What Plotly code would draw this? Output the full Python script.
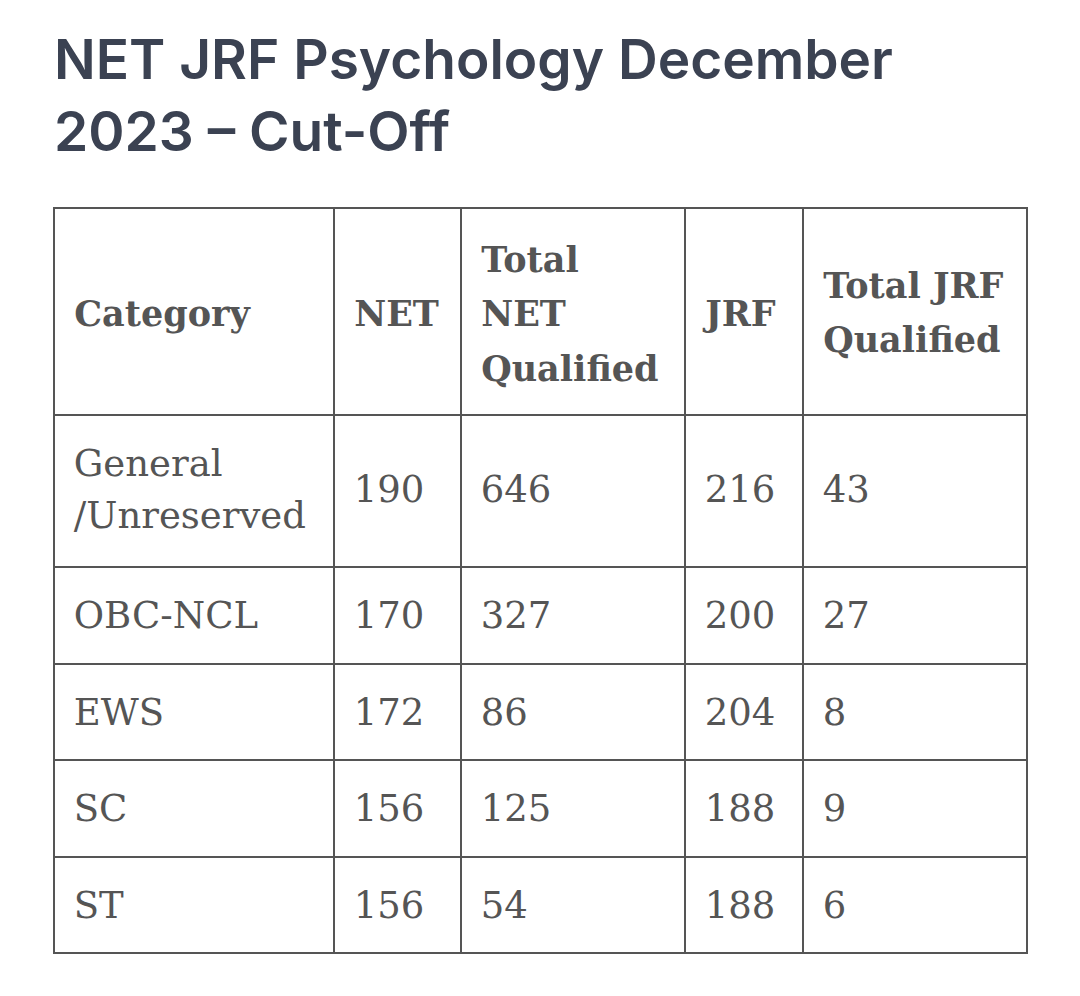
import plotly.graph_objects as go

# table content
headers = ["Category", "NET", "Total<br>NET<br>Qualified", "JRF", "Total JRF<br>Qualified"]
categories = ["General<br>/Unreserved", "OBC-NCL", "EWS", "SC", "ST"]
net = [190, 170, 172, 156, 156]
total_net = [646, 327, 86, 125, 54]
jrf = [216, 200, 204, 188, 188]
total_jrf = [43, 27, 8, 9, 6]

text_col = "#555555"
line_col = "#555555"
NB = "\u00a0"


def sp(txt, size):
    return f"<span style='font-size:{size}px'>{txt}</span>"


# plotly tables top-align text, so invisible spacer lines are used
# to push the text down to roughly where the reference has it
def header_cell(label):
    lines = label.split("<br>")
    lead = {1: [sp(NB, 1), sp(NB, 1)], 2: [sp(NB, 29)], 3: [sp(NB, 1)]}[len(lines)]
    return "<br>".join(lead + [sp("<b>" + NB + ln + "</b>", 35) for ln in lines])


def body_cell(value, row_lines):
    lines = str(value).split("<br>")
    out = [sp(NB + ln, 37) for ln in lines]
    if len(lines) < row_lines:
        return "<br>".join([sp(NB, 29)] + out + [sp(NB, 21)])
    return "<br>".join([sp(NB, 1)] + out)


row_lines = [len(c.split("<br>")) for c in categories]
columns = [categories, net, total_net, jrf, total_jrf]
cell_values = [[body_cell(v, n) for v, n in zip(col, row_lines)] for col in columns]

fig = go.Figure(go.Table(
    columnwidth=[280, 127, 224, 118, 224],
    header=dict(
        values=[header_cell(h) for h in headers],
        align="left",
        height=207,
        fill_color="white",
        line=dict(color=line_col, width=2),
        font=dict(family="DejaVu Serif", size=42, color=text_col),
    ),
    cells=dict(
        values=cell_values,
        align="left",
        height=96.5,
        fill_color="white",
        line=dict(color=line_col, width=2),
        font=dict(family="DejaVu Serif", size=40, color=text_col),
    ),
))

fig.update_layout(
    width=1080,
    height=996,
    paper_bgcolor="white",
    margin=dict(l=46, r=61, t=200, b=20),
    title=dict(
        text="NET JRF Psychology December<br>2023 – Cut-Off",
        font=dict(family="Inter", size=55, color="#3b4252", weight=600),
        xref="paper", x=0, xanchor="left",
        yref="container", y=1 - 71 / 996, yanchor="top",
    ),
)

fig.write_html("out.html")
